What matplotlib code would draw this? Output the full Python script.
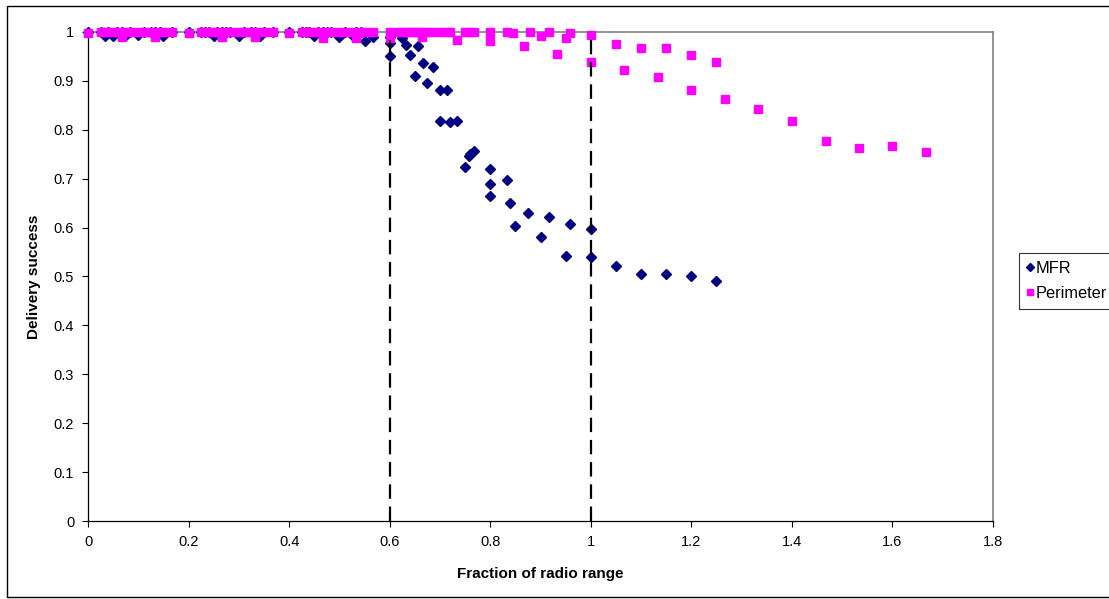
import matplotlib
matplotlib.use('Agg')
import matplotlib.pyplot as plt
from matplotlib.patches import Rectangle

plt.rcParams['font.family'] = ['Liberation Sans', 'DejaVu Sans']

# MFR series (fraction of radio range, delivery success)
mfr_x = [0.0,
         0.025, 0.033, 0.04, 0.05, 0.057, 0.067, 0.075, 0.083, 0.1, 0.111, 0.125, 0.133, 0.143, 0.15, 0.167,
         0.2,
         0.225, 0.233, 0.24, 0.25, 0.257, 0.267, 0.275, 0.283, 0.3, 0.311, 0.325, 0.333, 0.343, 0.35, 0.367,
         0.4,
         0.425, 0.433, 0.44, 0.45, 0.457, 0.467, 0.475, 0.483, 0.5, 0.511, 0.525, 0.533, 0.543, 0.55, 0.567,
         0.6, 0.6, 0.6, 0.625, 0.633, 0.64, 0.65, 0.657, 0.667, 0.675, 0.686,
         0.7, 0.7, 0.714, 0.72, 0.733, 0.75, 0.757, 0.76, 0.767,
         0.8, 0.8, 0.8, 0.833, 0.84, 0.85, 0.875, 0.9, 0.917, 0.95, 0.958,
         1.0, 1.0, 1.05, 1.1, 1.15, 1.2, 1.25]
mfr_y = [1.0,
         1.0, 0.992, 1.0, 0.992, 1.0, 1.0, 0.993, 1.0, 0.993, 1.0, 1.0, 1.0, 1.0, 0.992, 1.0,
         1.0,
         1.0, 1.0, 1.0, 0.992, 1.0, 1.0, 1.0, 1.0, 0.992, 1.0, 1.0, 1.0, 0.992, 1.0, 1.0,
         1.0,
         1.0, 1.0, 1.0, 0.992, 1.0, 1.0, 1.0, 1.0, 0.99, 1.0, 0.993, 1.0, 1.0, 0.981, 0.99,
         0.99, 0.978, 0.95, 0.988, 0.974, 0.952, 0.909, 0.971, 0.936, 0.896, 0.928,
         0.881, 0.818, 0.881, 0.815, 0.818, 0.723, 0.746, 0.75, 0.757,
         0.72, 0.69, 0.664, 0.698, 0.65, 0.603, 0.63, 0.581, 0.622, 0.542, 0.608,
         0.597, 0.539, 0.522, 0.505, 0.505, 0.501, 0.491]

# Perimeter series
per_x = [0.0,
         0.025, 0.033, 0.04, 0.05, 0.057, 0.067, 0.075, 0.083, 0.1, 0.111, 0.125, 0.133, 0.143, 0.15, 0.167,
         0.2,
         0.225, 0.233, 0.24, 0.25, 0.257, 0.267, 0.275, 0.283, 0.3, 0.311, 0.325, 0.333, 0.343, 0.35, 0.367,
         0.4,
         0.425, 0.433, 0.44, 0.45, 0.457, 0.467, 0.475, 0.483, 0.5, 0.511, 0.525, 0.533, 0.543, 0.55, 0.567,
         0.6, 0.6, 0.617, 0.625, 0.633, 0.643, 0.65, 0.657, 0.665, 0.667, 0.675, 0.686,
         0.7, 0.714, 0.72, 0.733, 0.75, 0.757, 0.767,
         0.8, 0.8, 0.833, 0.846, 0.867, 0.879, 0.9, 0.917, 0.933, 0.95, 0.958,
         1.0, 1.0, 1.05, 1.067, 1.1, 1.133, 1.15, 1.2, 1.2, 1.25, 1.267,
         1.333, 1.4, 1.467, 1.533, 1.6, 1.667]
per_y = [0.998,
         1.0, 1.0, 1.0, 1.0, 1.0, 0.99, 1.0, 1.0, 1.0, 1.0, 1.0, 0.99, 1.0, 1.0, 1.0,
         0.997,
         1.0, 1.0, 1.0, 1.0, 1.0, 0.99, 1.0, 1.0, 1.0, 1.0, 1.0, 0.99, 1.0, 1.0, 1.0,
         0.997,
         1.0, 1.0, 1.0, 1.0, 1.0, 0.987, 1.0, 1.0, 1.0, 1.0, 1.0, 0.987, 1.0, 1.0, 1.0,
         1.0, 0.988, 1.0, 1.0, 1.0, 1.0, 1.0, 1.0, 0.989, 1.0, 1.0, 1.0,
         1.0, 1.0, 1.0, 0.984, 1.0, 1.0, 1.0,
         1.0, 0.981, 1.0, 0.998, 0.971, 1.0, 0.991, 1.0, 0.956, 0.988, 0.997,
         0.994, 0.939, 0.975, 0.922, 0.967, 0.907, 0.967, 0.952, 0.881, 0.939, 0.863,
         0.842, 0.817, 0.777, 0.763, 0.767, 0.755]

# reference lines
ref_x = [0.6, 1.0]

x_ticks = [0, 0.2, 0.4, 0.6, 0.8, 1, 1.2, 1.4, 1.6, 1.8]
x_labels = ['0', '0.2', '0.4', '0.6', '0.8', '1', '1.2', '1.4', '1.6', '1.8']
y_ticks = [0, 0.1, 0.2, 0.3, 0.4, 0.5, 0.6, 0.7, 0.8, 0.9, 1]
y_labels = ['0', '0.1', '0.2', '0.3', '0.4', '0.5', '0.6', '0.7', '0.8', '0.9', '1']

fig = plt.figure(figsize=(11.09, 5.99), dpi=100)
ax = fig.add_axes([0.0794, 0.1302, 0.816, 0.8164])

ax.plot(mfr_x, mfr_y, linestyle='none', marker='D', markersize=5.0,
        color='#000080', label='MFR', clip_on=False, zorder=3)
ax.plot(per_x, per_y, linestyle='none', marker='s', markersize=5.6,
        color='#FF00FF', label='Perimeter', clip_on=False, zorder=4)

# dashed lines at 0.6 and 1.0
ax.vlines(ref_x, 0, 1, colors='black', linewidth=1.6,
          linestyles=(0, (6.5, 3.5)), zorder=5)

ax.set_xlim(0, 1.8)
ax.set_ylim(0, 1)
ax.set_xticks(x_ticks)
ax.set_xticklabels(x_labels, fontsize=10.5)
ax.set_yticks(y_ticks)
ax.set_yticklabels(y_labels, fontsize=10.5)
ax.tick_params(direction='out', length=4, width=0.8, color='black', pad=6)

for s in ['top', 'right']:
    ax.spines[s].set_color('#808080')
    ax.spines[s].set_linewidth(1.2)
for s in ['left', 'bottom']:
    ax.spines[s].set_color('black')
    ax.spines[s].set_linewidth(0.9)

ax.set_xlabel('Fraction of radio range', fontsize=11, fontweight='bold', labelpad=13)
ax.set_ylabel('Delivery success', fontsize=11, fontweight='bold', labelpad=9)

leg = ax.legend(loc='center left', bbox_to_anchor=(1019 / 1109, 1 - 281 / 599),
                bbox_transform=fig.transFigure, frameon=True, fancybox=False,
                fontsize=11.8, handlelength=0.3, handletextpad=0.2,
                borderpad=0.5, labelspacing=0.6, borderaxespad=0, markerscale=0.8)
leg.get_frame().set_edgecolor('black')
leg.get_frame().set_linewidth(0.8)

# outer chart border
fig.patches.append(Rectangle((7 / 1109, 2 / 599), 1.02, 591 / 599,
                             transform=fig.transFigure, fill=False,
                             edgecolor='black', linewidth=1.0))

plt.savefig('out.png', dpi=100)
